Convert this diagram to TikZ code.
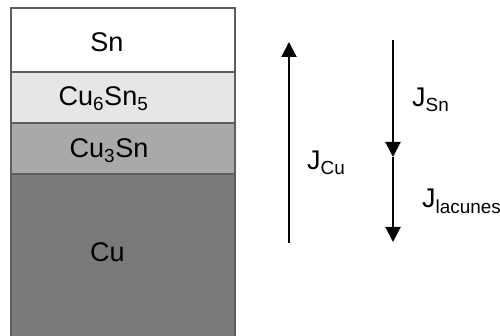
\documentclass[tikz,border=0pt]{standalone}
\usepackage{fontspec}
\setmainfont{Liberation Sans}
\usetikzlibrary{arrows.meta}
\definecolor{edgegray}{HTML}{5E5E5E}
\definecolor{snfill}{HTML}{FFFFFF}
\definecolor{cusixfill}{HTML}{E6E6E6}
\definecolor{cuthreefill}{HTML}{A9A9A9}
\definecolor{cufill}{HTML}{7A7A7A}
\begin{document}
\begin{tikzpicture}[x=1pt,y=-1pt,
  layer/.style={draw=edgegray, line width=1.3pt},
  lbl/.style={anchor=base, inner sep=0pt, font=\fontsize{27}{32}\selectfont},
  jlbl/.style={anchor=base west, inner sep=0pt, font=\fontsize{27}{32}\selectfont},
  flux/.style={line width=2pt, -{Triangle[width=15pt,length=15pt]}}]
\useasboundingbox (0,0) rectangle (500,336);
% layers
\path[layer, fill=cufill] (11,174) rectangle (235,345);
\path[layer, fill=cuthreefill] (11,123) rectangle (235,174);
\path[layer, fill=cusixfill] (11,72) rectangle (235,123);
\path[layer, fill=snfill] (11,8) rectangle (235,72);
% layer labels
\node[lbl] (sn) at (107,52) {Sn};
\node[lbl] (cusix) at (103.5,106) {Cu\textsubscript{6}Sn\textsubscript{5}};
\node[lbl] (cuthree) at (109,158) {Cu\textsubscript{3}Sn};
\node[lbl] (cu) at (107.5,262) {Cu};
% fluxes
\coordinate (cutail) at (289,243);
\coordinate (cutip) at (289,42);
\draw[flux] (cutail) -- (cutip);
\coordinate (sntail) at (393,40);
\coordinate (mid) at (393,157);
\coordinate (lactip) at (393,242);
\draw[flux] (sntail) -- (mid);
\draw[flux] (mid) -- (lactip);
\node[jlbl] (jsn) at (412,107) {J\textsubscript{Sn}};
\node[jlbl] (jcu) at (307,170) {J\textsubscript{Cu}};
\node[jlbl] (jlac) at (422,208) {J\textsubscript{lacunes}};
\end{tikzpicture}
\end{document}
